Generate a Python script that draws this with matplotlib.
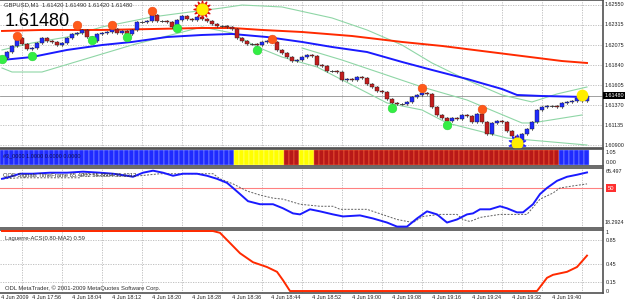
import matplotlib.pyplot as plt
from matplotlib.patches import Rectangle

# ---------------- data ----------------
title_text = 'GBPUSD,M1  1.61420 1.61490 1.61420 1.61480'
last_price = 1.61480
first_open = 1.61900

# M1 closes, one per bar (bar index 0 = 17:44)
closes = [
    1.61923, 1.61993, 1.62064, 1.62158, 1.62087, 1.62028, 1.62040, 1.62099, 1.62158, 1.62122,
    1.62111, 1.62075, 1.62099, 1.62158, 1.62205, 1.62216, 1.62252, 1.62169, 1.62122, 1.62205,
    1.62216, 1.62228, 1.62263, 1.62216, 1.62240, 1.62205, 1.62252, 1.62346, 1.62346, 1.62357,
    1.62428, 1.62357, 1.62357, 1.62346, 1.62287, 1.62369, 1.62416, 1.62381, 1.62369, 1.62404,
    1.62381, 1.62357, 1.62322, 1.62299, 1.62299, 1.62287, 1.62263, 1.62158, 1.62122, 1.62087,
    1.62087, 1.62075, 1.62111, 1.62122, 1.62111, 1.62017, 1.61981, 1.61934, 1.61887, 1.61899,
    1.61934, 1.61958, 1.61946, 1.61840, 1.61829, 1.61770, 1.61770, 1.61758, 1.61664, 1.61676,
    1.61664, 1.61699, 1.61688, 1.61617, 1.61582, 1.61535, 1.61523, 1.61441, 1.61394, 1.61382,
    1.61382, 1.61406, 1.61464, 1.61488, 1.61511, 1.61500, 1.61347, 1.61253, 1.61218, 1.61182,
    1.61218, 1.61206, 1.61253, 1.61241, 1.61171, 1.61265, 1.61171, 1.61030, 1.61159, 1.61182,
    1.61171, 1.61065, 1.61006, 1.60959, 1.61030, 1.61088, 1.61171, 1.61312, 1.61347, 1.61359,
    1.61359, 1.61347, 1.61394, 1.61406, 1.61417, 1.61453, 1.61420, 1.61480,
]
last_open = 1.61420

time_tick_bars = [4, 12, 20, 28, 36, 44, 52, 60, 68, 76, 84, 92, 100, 108, 116]
time_labels = ['4 Jun 2009', '4 Jun 17:56', '4 Jun 18:04', '4 Jun 18:12', '4 Jun 18:20',
               '4 Jun 18:28', '4 Jun 18:36', '4 Jun 18:44', '4 Jun 18:52', '4 Jun 19:00',
               '4 Jun 19:08', '4 Jun 19:16', '4 Jun 19:24', '4 Jun 19:32', '4 Jun 19:40']
price_ticks = [1.62550, 1.62315, 1.62075, 1.61840, 1.61605, 1.61370, 1.61135, 1.60900]

# slow MA (red) and fast MA (blue)
ma_slow_bars = [0, 8, 20, 30, 40, 46, 52, 60, 70, 80, 88, 96, 104, 112, 117]
ma_slow = [1.62240, 1.62252, 1.62252, 1.62263, 1.62275, 1.62275, 1.62252, 1.62228,
           1.62181, 1.62111, 1.62064, 1.62005, 1.61946, 1.61887, 1.61864]
ma_fast_bars = [0, 6, 13, 20, 26, 33, 40, 46, 53, 60, 66, 73, 80, 86, 93, 100, 103, 108, 117]
ma_fast = [1.61899, 1.61934, 1.62017, 1.62075, 1.62111, 1.62169, 1.62193, 1.62205, 1.62169,
           1.62111, 1.62052, 1.61993, 1.61876, 1.61782, 1.61676, 1.61558, 1.61488, 1.61476, 1.61464]

# bands (light green)
band_up_bars = [0, 6, 13, 20, 30, 36, 44, 48, 56, 66, 73, 80, 86, 93, 100, 106, 111, 117]
band_up = [1.62017, 1.62099, 1.62169, 1.62287, 1.62404, 1.62451, 1.62510, 1.62545, 1.62522,
           1.62393, 1.62252, 1.62075, 1.61864, 1.61664, 1.61488, 1.61406, 1.61500, 1.61582]
band_mid_bars = [60, 68, 84, 93, 104, 106, 116]
band_mid = [1.62040, 1.61899, 1.61582, 1.61429, 1.61159, 1.61159, 1.61253]
band_lo_bars = [0, 2, 8, 16, 26, 40, 46, 51, 56, 63, 77, 84, 89, 101, 117]
band_lo = [1.61805, 1.61758, 1.61758, 1.61899, 1.62075, 1.62287, 1.62216, 1.62052, 1.61934,
           1.61817, 1.61394, 1.61312, 1.61159, 1.60982, 1.60900]

orange_bars = [3, 15, 22, 30, 54, 84, 96]
orange_prices = [1.62181, 1.62310, 1.62310, 1.62475, 1.62146, 1.61570, 1.61323]
green_bars = [0, 6, 18, 25, 35, 51, 78, 89]
green_prices = [1.61910, 1.61946, 1.62134, 1.62169, 1.62275, 1.62017, 1.61335, 1.61135]
sun_bar, sun_price = 40, 1.62498
star_bar, star_price = 103, 1.60924
yellow_bar, yellow_price = 116, 1.61488

# signal strip: runs of (colour, bar count)
strip_runs = [('blue', 47), ('yellow', 10), ('red', 3), ('yellow', 3), ('red', 49), ('blue', 6)]

# QQE panel
qqe_title = 'QQE Signals TimeFrame 65.4962 55.8604 55.6312'
qqe_bars = [0, 1.6, 3.6, 6.2, 9.6, 13, 16.2, 19.6, 22.2, 25, 26.2, 28.2, 30.2, 32.2, 34.2,
            36.2, 39, 41, 43, 45, 46.2, 47.6, 49.2, 51.6, 54.2, 56.2, 58.2, 59.6, 61.6, 63.6,
            66.2, 68.2, 71.6, 74.2, 77, 79, 81, 83, 85, 87, 89, 91, 93, 94.2, 95.6, 97.6,
            99.6, 101, 103, 104.2, 106.2, 107.6, 109, 111, 113, 115, 117]
qqe_vals = [57.5, 59.1, 61.5, 61.5, 62.3, 62.3, 63.1, 62.3, 61.5, 59.9, 59.1, 62.3, 63.9,
            62.3, 59.9, 61.5, 61.5, 59.9, 57.5, 54.3, 50.3, 45.5, 39.9, 37.5, 37.5, 34.3,
            30.3, 29.5, 33.5, 31.9, 29.5, 27.9, 28.7, 26.3, 23.1, 19.9, 19.9, 26.3, 31.9,
            29.5, 23.1, 25.5, 29.5, 30.3, 33.5, 33.5, 35.9, 34.3, 31.1, 31.1, 37.5, 45.5,
            50.3, 55.9, 59.1, 60.7, 62.5]
trail_bars = [0.2, 3.6, 9.6, 15.6, 16.2, 19.6, 27.6, 31.6, 37, 42.2, 43.6, 46.2, 49, 51.6,
              54.2, 56.2, 59.6, 63.6, 66.2, 67.6, 73, 79, 82.2, 84.2, 87.6, 91, 92.2, 93.6,
              95.6, 99.6, 105, 107.6, 110.2, 111.6, 114.2, 117]
trail_vals = [57.5, 58.3, 58.3, 58.3, 61.5, 59.9, 59.9, 61.5, 61.5, 61.5, 57.5, 53.5, 47.9,
              44.7, 42.3, 41.5, 37.5, 35.9, 35.9, 33.5, 33.5, 25.5, 23.1, 27.9, 29.5, 29.5,
              25.5, 23.9, 27.1, 29.5, 29.5, 41.5, 46.3, 50.3, 51.9, 53.5]

# Laguerre panel
lag_title = 'Laguerre-ACS(0.80-MA2) 0.59'
lag_bars = [0, 42.2, 43.6, 45.6, 47.6, 50.2, 53, 55, 56.2, 57.6, 107, 109, 110.2, 113, 115, 117]
lag_vals = [1.0, 1.0, 0.97, 0.80, 0.63, 0.48, 0.40, 0.32, 0.18, 0.0, 0.0, 0.22, 0.27, 0.32, 0.40, 0.59]

copyright_text = 'ODL MetaTrader, \u00a9 2001-2009 MetaQuotes Software Corp.'

# ---------------- drawing ----------------
plt.rcParams['font.family'] = ['Liberation Sans', 'DejaVu Sans']
W, H = 625, 303
fig = plt.figure(figsize=(W / 100, H / 100), dpi=100)
fig.patch.set_facecolor('white')


def box(top, bottom, left=0, right=603):
    return [left / W, 1 - bottom / H, (right - left) / W, (bottom - top) / H]


ax_p = fig.add_axes(box(0, 148))
ax_s = fig.add_axes(box(149, 166))
ax_q = fig.add_axes(box(168, 228))
ax_l = fig.add_axes(box(230, 293))

XL = (-0.4, 120.2)
grid_kw = dict(color='#b8b8b8', lw=0.6, ls=(0, (1.5, 1.5)), zorder=0)
lab_kw = dict(fontsize=3.9, color='#202020', va='center', ha='left', clip_on=False)
small = dict(fontsize=4.2, color='#303030', va='center', ha='left')

for ax in (ax_p, ax_s, ax_q, ax_l):
    ax.set_xlim(*XL)
    ax.set_xticks([])
    ax.set_yticks([])
    ax.set_facecolor('white')
    ax.spines['left'].set_visible(False)
    for s in ('top', 'bottom', 'right'):
        ax.spines[s].set_color('#505050')
        ax.spines[s].set_linewidth(1.2)
    for b in time_tick_bars:
        ax.axvline(b, **grid_kw)

# --- price panel
ax_p.set_ylim(1.60865, 1.62604)
for p in price_ticks:
    ax_p.axhline(p, **grid_kw)
    ax_p.text(1.002, p, '%.5f' % p, transform=ax_p.get_yaxis_transform(), **lab_kw)
ax_p.axhline(last_price, color='#909090', lw=0.6, zorder=1)

ax_p.plot(ma_slow_bars, ma_slow, color='#ff2a00', lw=1.4, zorder=3)
ax_p.plot(ma_fast_bars, ma_fast, color='#1a1aff', lw=1.4, zorder=3)
for bx, by in ((band_up_bars, band_up), (band_mid_bars, band_mid), (band_lo_bars, band_lo)):
    ax_p.plot(bx, by, color='#8fd6a6', lw=0.8, zorder=2)

opens = [first_open] + closes[:-1]
opens[-1] = last_open
for i, (o, c) in enumerate(zip(opens, closes)):
    lo, hi = min(o, c), max(o, c)
    ax_p.plot([i, i], [lo - 0.00012, hi + 0.00012], color='#303030', lw=0.5, zorder=4)
    col = '#1f2bff' if c > o else '#c41e1e'
    if hi - lo < 0.00004:
        ax_p.plot([i - 0.45, i + 0.45], [c, c], color='#303030', lw=0.6, zorder=5)
    else:
        ax_p.add_patch(Rectangle((i - 0.35, lo), 0.7, hi - lo, facecolor=col,
                                 edgecolor='#202020', lw=0.3, zorder=5))

ax_p.scatter(orange_bars, orange_prices, s=40, color='#ff5a1a', edgecolor='#e04010',
             lw=0.3, zorder=7)
ax_p.scatter(green_bars, green_prices, s=40, color='#33ee44', edgecolor='#22cc33',
             lw=0.3, zorder=7)
ax_p.scatter([sun_bar], [sun_price], s=150, marker=(12, 1, 0), color='#e01010', zorder=7)
ax_p.scatter([sun_bar], [sun_price], s=60, color='#ffee00', zorder=8)
ax_p.scatter([star_bar], [star_price], s=150, marker=(10, 1, 0), color='#2020ff', zorder=7)
ax_p.scatter([star_bar], [star_price], s=60, color='#ffee00', zorder=8)
ax_p.scatter([yellow_bar], [yellow_price], s=55, color='#ffee00', zorder=8)

ax_p.text(0.006, 0.965, title_text, transform=ax_p.transAxes, **small)
ax_p.text(0.008, 0.855, '%.5f' % last_price, transform=ax_p.transAxes, fontsize=13,
          color='black', va='center', ha='left')
ax_p.text(1.002, last_price, '%.5f' % last_price, transform=ax_p.get_yaxis_transform(),
          fontsize=3.9, color='white', va='center', ha='left', clip_on=False,
          bbox=dict(boxstyle='square,pad=0.15', fc='black', ec='none'))

# --- signal strip
strip_cols = {'blue': '#1f2bff', 'yellow': '#ffff00', 'red': '#b81818'}
strip_edge = {'blue': '#9aa4ff', 'yellow': '#ffff90', 'red': '#ff7040'}
idx = 0
for name, n in strip_runs:
    for k in range(n):
        ax_s.bar(idx, 1.0, width=1.0, bottom=0, color=strip_cols[name],
                 edgecolor=strip_edge[name], lw=0.35, zorder=2)
        idx += 1
ax_s.set_ylim(-0.1, 1.1)
ax_s.text(0.005, 0.62, '#3_0000 1.0000 0.0000 0.0000', transform=ax_s.transAxes,
          fontsize=4.0, color='#101050', va='center', ha='left', zorder=5)
ax_s.text(1.004, 0.80, '1.05', transform=ax_s.transAxes, **lab_kw)
ax_s.text(1.004, 0.22, '0.00', transform=ax_s.transAxes, **lab_kw)

# --- QQE
ax_q.set_ylim(18.8, 66.0)
ax_q.axhline(50, color='#ff8080', lw=0.8, zorder=1)
ax_q.plot(trail_bars, trail_vals, color='#606060', lw=0.7, ls=(0, (2, 1.5)), zorder=2)
ax_q.plot(qqe_bars, qqe_vals, color='#1a1aff', lw=1.4, zorder=3)
ax_q.text(0.005, 0.88, qqe_title, transform=ax_q.transAxes, **small)
ax_q.text(1.004, 0.94, '65.497', transform=ax_q.transAxes, **lab_kw)
ax_q.text(1.008, 50, '50', transform=ax_q.get_yaxis_transform(), fontsize=4.2,
          color='white', va='center', ha='left', clip_on=False,
          bbox=dict(boxstyle='square,pad=0.25', fc='#ff3030', ec='none'))
ax_q.text(1.002, 0.10, '18.2924', transform=ax_q.transAxes, **lab_kw)

# --- Laguerre
ax_l.set_ylim(-0.033, 1.017)
for lv in (0.85, 0.45, 0.15):
    ax_l.axhline(lv, **grid_kw)
ax_l.plot(lag_bars, lag_vals, color='#ff2a00', lw=1.4, zorder=3)
ax_l.text(0.008, 0.87, lag_title, transform=ax_l.transAxes, **small)
ax_l.text(0.008, 0.08, copyright_text, transform=ax_l.transAxes, **small)
for lv, lt in ((0.97, '1'), (0.85, '0.85'), (0.45, '0.45'), (0.15, '0.15'), (0.0, '0')):
    ax_l.text(1.004, lv, lt, transform=ax_l.get_yaxis_transform(), **lab_kw)

# --- time axis labels (first one starts at the left edge)
for b, t in zip(time_tick_bars, time_labels):
    if b == time_tick_bars[0]:
        ax_l.text(0.002, -0.07, t, transform=ax_l.transAxes, fontsize=4.0,
                  color='#202020', va='center', ha='left', clip_on=False)
    else:
        ax_l.text(b - 0.2, -0.07, t, transform=ax_l.get_xaxis_transform(), fontsize=4.0,
                  color='#202020', va='center', ha='right', clip_on=False)

fig.savefig('out.png', dpi=100)
